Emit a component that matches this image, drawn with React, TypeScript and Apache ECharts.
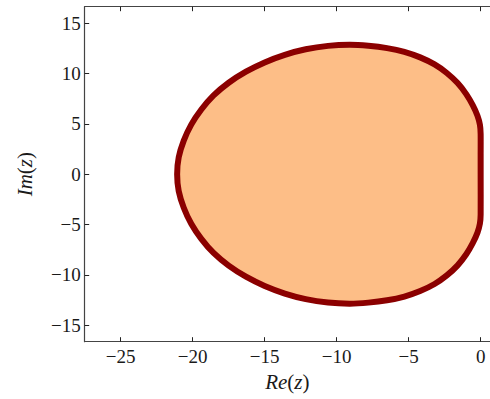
import React, { useEffect, useRef } from "react";
import * as echarts from "echarts";

// Boundary of the region, traced counter-clockwise starting at the origin.
const reZ: number[] = [
  0, 0, 0, -0.05, -0.22, -0.55, -1.0, -1.6, -2.35, -3.2, -4.2, -5.3, -6.5,
  -7.8, -9.1, -10.6, -12.15, -13.6, -15.0, -16.3, -17.5, -18.55, -19.4, -20.1,
  -20.62, -20.97, -21.08,
  -20.97, -20.62, -20.1, -19.4, -18.55, -17.5, -16.3, -15.0, -13.6, -12.15,
  -10.6, -9.1, -7.8, -6.5, -5.3, -4.2, -3.2, -2.35, -1.6, -1.0, -0.55, -0.22,
  -0.05, 0,
];
const imZ: number[] = [
  0, 2.0, 4.0, 4.9, 5.8, 6.85, 7.95, 9.05, 10.05, 10.9, 11.6, 12.15, 12.52,
  12.75, 12.85, 12.74, 12.4, 11.85, 11.1, 10.18, 9.08, 7.82, 6.42, 4.92, 3.33,
  1.68, 0,
  -1.68, -3.33, -4.92, -6.42, -7.82, -9.08, -10.18, -11.1, -11.85, -12.4,
  -12.74, -12.85, -12.75, -12.52, -12.15, -11.6, -10.9, -10.05, -9.05, -7.95,
  -6.85, -5.8, -4.9, -4.0, -2.0,
];

const xTicks = [-25, -20, -15, -10, -5, 0];
const yTicks = [-15, -10, -5, 0, 5, 10, 15];

const FONT = "'Liberation Serif', 'Times New Roman', serif";
const fmt = (v: number) => (v < 0 ? "\u2212" + Math.abs(v) : String(v));

export default function App() {
  const ref = useRef<HTMLDivElement>(null);

  useEffect(() => {
    if (!ref.current) return;
    const chart = echarts.init(ref.current, undefined, { renderer: "svg" });
    const spine = { show: true, onZero: false, lineStyle: { color: "#444", width: 1.2 } };
    const tick = { show: true, inside: true, length: 4.5, lineStyle: { color: "#222", width: 1 } };
    const rich = {
      i: { fontFamily: FONT, fontStyle: "italic" as const, fontSize: 21, color: "#1a1a1a" },
      n: { fontFamily: FONT, fontSize: 21, color: "#1a1a1a" },
    };

    chart.setOption({
      animation: false,
      backgroundColor: "#fff",
      grid: { left: 84.7, top: 6.7, width: 405.3, height: 335, containLabel: false },
      xAxis: [
        {
          type: "value",
          position: "bottom",
          min: -27.5,
          max: 0.65,
          axisLine: spine,
          axisTick: { ...tick, customValues: xTicks },
          splitLine: { show: false },
          axisLabel: {
            customValues: xTicks,
            formatter: fmt,
            fontFamily: FONT,
            fontSize: 19,
            color: "#1a1a1a",
            margin: 5,
          },
          name: "{i|Re}{n|(}{i|z}{n|)}",
          nameLocation: "middle",
          nameGap: 30,
          nameTextStyle: { rich },
        },
        {
          type: "value",
          position: "top",
          min: -27.5,
          max: 0.65,
          axisLine: spine,
          axisTick: { ...tick, customValues: xTicks },
          splitLine: { show: false },
          axisLabel: { show: false },
        },
      ],
      yAxis: [
        {
          type: "value",
          position: "left",
          min: -16.63,
          max: 16.63,
          axisLine: spine,
          axisTick: { ...tick, customValues: yTicks },
          splitLine: { show: false },
          axisLabel: {
            customValues: yTicks,
            formatter: fmt,
            fontFamily: FONT,
            fontSize: 19,
            color: "#1a1a1a",
            margin: 4,
          },
          name: "{i|Im}{n|(}{i|z}{n|)}",
          nameLocation: "middle",
          nameRotate: 90,
          nameGap: 49,
          nameTextStyle: { rich },
        },
      ],
      series: [
        {
          type: "custom",
          xAxisIndex: 0,
          yAxisIndex: 0,
          data: [[-10, 0]],
          renderItem: (_params: any, api: any) => {
            const pts = reZ.map((x, k) => api.coord([x, imZ[k]]));
            return {
              type: "polygon",
              shape: { points: pts, smooth: 0.2 },
              style: {
                fill: "#FDBE87",
                stroke: "#8B0000",
                lineWidth: 6,
                lineJoin: "round",
              },
            };
          },
        },
      ],
    });
    return () => chart.dispose();
  }, []);

  return (
    <div
      ref={ref}
      style={{ position: "fixed", left: 0, top: 0, width: 490, height: 399 }}
    />
  );
}
